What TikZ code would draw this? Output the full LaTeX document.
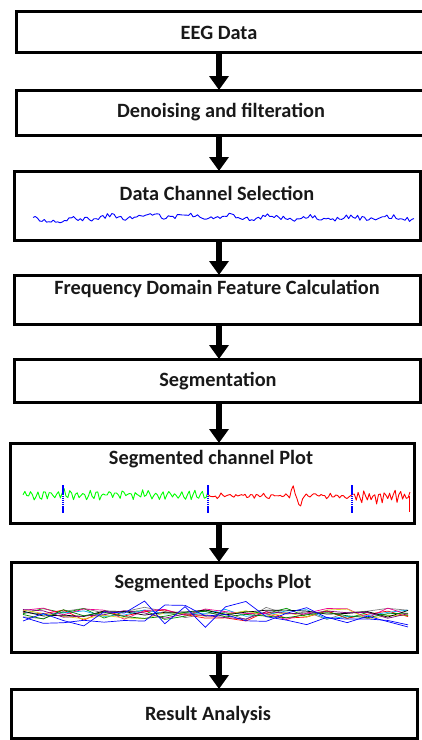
\documentclass[tikz,border=0pt]{standalone}
\usepackage{fontspec}
\setmainfont{Carlito}
\usetikzlibrary{arrows.meta}
\begin{document}
\begin{tikzpicture}[x=1pt,y=-1pt,
  box/.style={draw=black, line width=3pt, fill=white, inner sep=0pt, outer sep=0pt},
  lbl/.style={font=\fontsize{20.3}{22}\selectfont\bfseries, text=black!90, inner sep=0pt},
  arr/.style={line width=5.5pt, -{Triangle[width=19pt,length=14pt]}},
  sig/.style={line width=0.9pt, line join=round}]
\useasboundingbox (0,0) rectangle (422,740);

% process boxes
\node[box, minimum width=410pt, minimum height=41pt] (b1) at (221,31.5) {};
\node[box, minimum width=410pt, minimum height=45pt] (b2) at (221,112.5) {};
\node[box, minimum width=406pt, minimum height=69pt] (b3) at (217,205.5) {};
\node[box, minimum width=406pt, minimum height=49pt] (b4) at (217,299.5) {};
\node[box, minimum width=406pt, minimum height=43pt] (b5) at (217,380.5) {};
\node[box, minimum width=404pt, minimum height=80pt] (b6) at (212,483) {};
\node[box, minimum width=406pt, minimum height=90pt] (b7) at (214,607) {};
\node[box, minimum width=406pt, minimum height=49pt] (b8) at (214,713.5) {};

% box titles
\node[lbl] (t1) at (219,33) {EEG Data};
\node[lbl] (t2) at (221,112) {Denoising and filteration};
\node[lbl] (t3) at (217,193) {Data Channel Selection};
\node[lbl] (t4) at (217,289) {Frequency Domain Feature Calculation};
\node[lbl] (t5) at (218,381) {Segmentation};
\node[lbl] (t6) at (211,459) {Segmented channel Plot};
\node[lbl] (t7) at (213,583) {Segmented Epochs Plot};
\node[lbl] (t8) at (208,715) {Result Analysis};

% flow arrows
\coordinate (ax) at (219,0);
\draw[arr] (b1.south -| ax) -- (b2.north -| ax);
\draw[arr] (b2.south -| ax) -- (b3.north -| ax);
\draw[arr] (b3.south -| ax) -- (b4.north -| ax);
\draw[arr] (b4.south -| ax) -- (b5.north -| ax);
\draw[arr] (b5.south -| ax) -- (b6.north -| ax);
\draw[arr] (b6.south -| ax) -- (b7.north -| ax);
\draw[arr] (b7.south -| ax) -- (b8.north -| ax);

% selected channel trace
\pgfmathsetseed{7}
\draw[sig, blue] plot[domain=33:414, samples=170]
  (\x, {218 + 1.5*sin(9*\x) + 2.2*rand + 3*max(0,1-abs(\x-60)/30)
        - 2*max(0,1-abs(\x-180)/120)});

% segmented channel: first part green, second part red
\pgfmathsetseed{11}
\draw[sig, green] plot[domain=23:208, samples=100]
  (\x, {495 + 3*sin(55*\x) + 2.5*rand
        + 8*max(0,1-abs(\x-63)/4)*sin(200*mod(\x,1.8))});
\pgfmathsetseed{23}
\draw[sig, red] plot[domain=208:410, samples=110]
  (\x, {496 + 2*rand + 1.2*sin(50*mod(\x,7.2))
        - 11*max(0,1-abs(\x-293)/3) + 13*max(0,1-abs(\x-300)/3)
        + 5*(\x>352)*sin(70*mod(\x,5.142857))});
\draw[sig, red, line width=1.4pt] (409.5,496) -- (409.5,512);
% segment boundaries
\foreach \sx in {63,208,352}
  \draw[blue, line width=1.5pt, dash pattern=on 1.5pt off 0.6pt] (\sx,485) -- (\sx,513);

% overlaid epochs
\foreach \c/\a/\s in {gray/7/3, green!60!black/6/5, red/7/9, cyan/5/13,
                      magenta/6/17, yellow!85!black/5/21, black/4/27,
                      violet/5/31, green!50!black/5/45, blue/15/37, blue/11/41} {
  \pgfmathsetseed{\s}
  \draw[line width=0.7pt, \c] plot[domain=23:408, samples=20]
    (\x, {614 + \a*rand});
}
\end{tikzpicture}
\end{document}
